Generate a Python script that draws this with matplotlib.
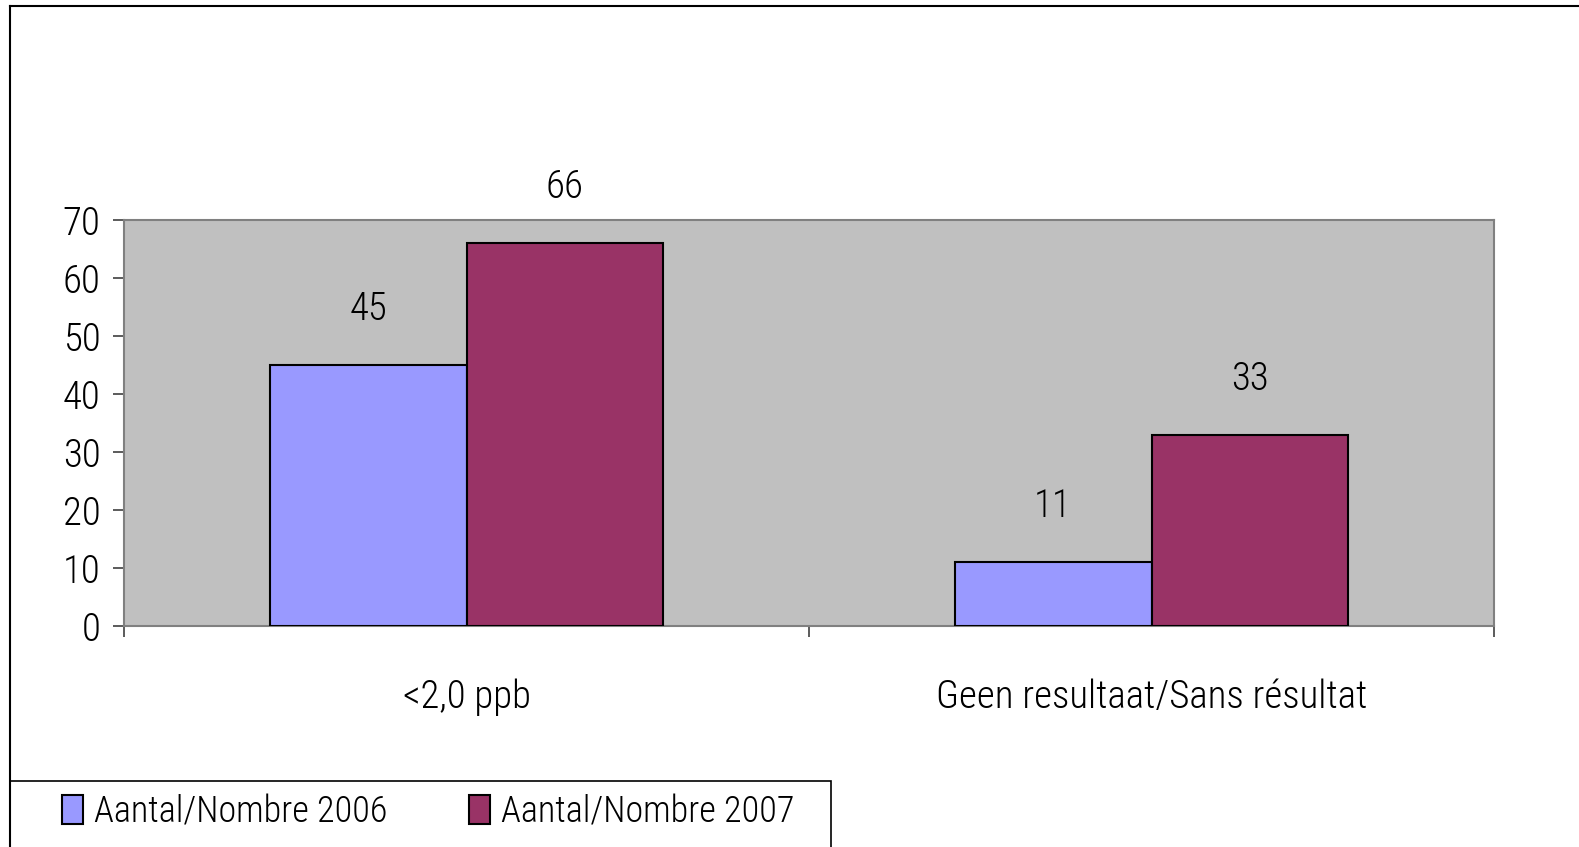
import matplotlib
matplotlib.use("Agg")
import matplotlib.pyplot as plt
from matplotlib import font_manager as fm
from matplotlib.lines import Line2D
from matplotlib.patches import Rectangle
import numpy as np

# ── Data ───────────────────────────────────────────────────────────────────
CATEGORIES = ["<2,0 ppb", "Geen resultaat/Sans résultat"]
SERIES = ["Aantal/Nombre 2006", "Aantal/Nombre 2007"]
VALUES_2006 = [45, 11]
VALUES_2007 = [66, 33]
Y_TICKS = [0, 10, 20, 30, 40, 50, 60, 70]

# ── Style ──────────────────────────────────────────────────────────────────
COLOR_2006 = "#9999FF"
COLOR_2007 = "#993366"
PLOT_BG = "#C0C0C0"

# the original uses a narrow Arial; take a condensed face if one is installed
installed = {f.name for f in fm.fontManager.ttflist}
narrow = [n for n in ("Liberation Sans Narrow", "Arial Narrow", "Roboto Condensed",
                      "Open Sans Condensed", "Noto Sans Condensed") if n in installed]
if narrow:
    plt.rcParams["font.family"] = [narrow[0], "DejaVu Sans"]
    FS, FS_LEG = 28, 26
    COLSPACE = 2.26
else:
    plt.rcParams["font.family"] = ["Liberation Sans", "DejaVu Sans"]
    FS, FS_LEG = 25, 23
    COLSPACE = 1.6
plt.rcParams["font.weight"] = "light"

W, H = 1579, 847
fig = plt.figure(figsize=(W / 100, H / 100), dpi=100)
ax = fig.add_axes([124 / W, 221 / H, 1370 / W, 406 / H])
ax.set_facecolor(PLOT_BG)

x = np.arange(len(CATEGORIES))
bw = 0.2875
b1 = ax.bar(x - bw / 2, VALUES_2006, width=bw, color=COLOR_2006,
            edgecolor="black", linewidth=1.5, label=SERIES[0], zorder=3)
b2 = ax.bar(x + bw / 2, VALUES_2007, width=bw, color=COLOR_2007,
            edgecolor="black", linewidth=1.5, label=SERIES[1], zorder=3)

# data labels above bars
for bars in (b1, b2):
    for r in bars:
        ax.annotate(f"{int(r.get_height())}",
                    xy=(r.get_x() + r.get_width() / 2, r.get_height()),
                    xytext=(0, 40), textcoords="offset points",
                    ha="center", va="center", fontsize=FS, color="black")

# ── Axes ───────────────────────────────────────────────────────────────────
ax.set_xlim(-0.5, len(CATEGORIES) - 0.5)
ax.set_ylim(0, 70)
ax.set_yticks(Y_TICKS)
ax.tick_params(axis="y", direction="out", length=8, width=1.2,
               color="#404040", pad=9, labelsize=FS)

ax.set_xticks(x)
ax.set_xticklabels(CATEGORIES)
ax.tick_params(axis="x", which="major", length=0, pad=38, labelsize=FS)
ax.set_xticks(np.arange(-0.5, len(CATEGORIES), 1.0), minor=True)
ax.tick_params(axis="x", which="minor", direction="out", length=8,
               width=1.2, color="#404040")

for s in ax.spines.values():
    s.set_color("#808080")
    s.set_linewidth(1.5)

# ── Outer chart border (top + left) ────────────────────────────────────────
fig.add_artist(Line2D([10 / W, 1.0], [1 - 6 / H, 1 - 6 / H],
                      color="black", linewidth=1.5, transform=fig.transFigure))
fig.add_artist(Line2D([10 / W, 10 / W], [0, 1 - 6 / H],
                      color="black", linewidth=1.5, transform=fig.transFigure))

# ── Legend box ─────────────────────────────────────────────────────────────
fig.add_artist(Rectangle((10 / W, -0.05), 821 / W, 0.05 + (H - 781) / H,
                         transform=fig.transFigure, facecolor="white",
                         edgecolor="black", linewidth=1.2, zorder=0))
fig.legend(handles=[b1, b2], labels=SERIES, ncol=2, frameon=False,
           loc="center left", bbox_to_anchor=(62 / W, 1 - 812 / H),
           borderpad=0, borderaxespad=0, fontsize=FS_LEG,
           handlelength=0.58, handleheight=0.85, handletextpad=0.3,
           columnspacing=COLSPACE)

fig.savefig("out.png", dpi=100)
